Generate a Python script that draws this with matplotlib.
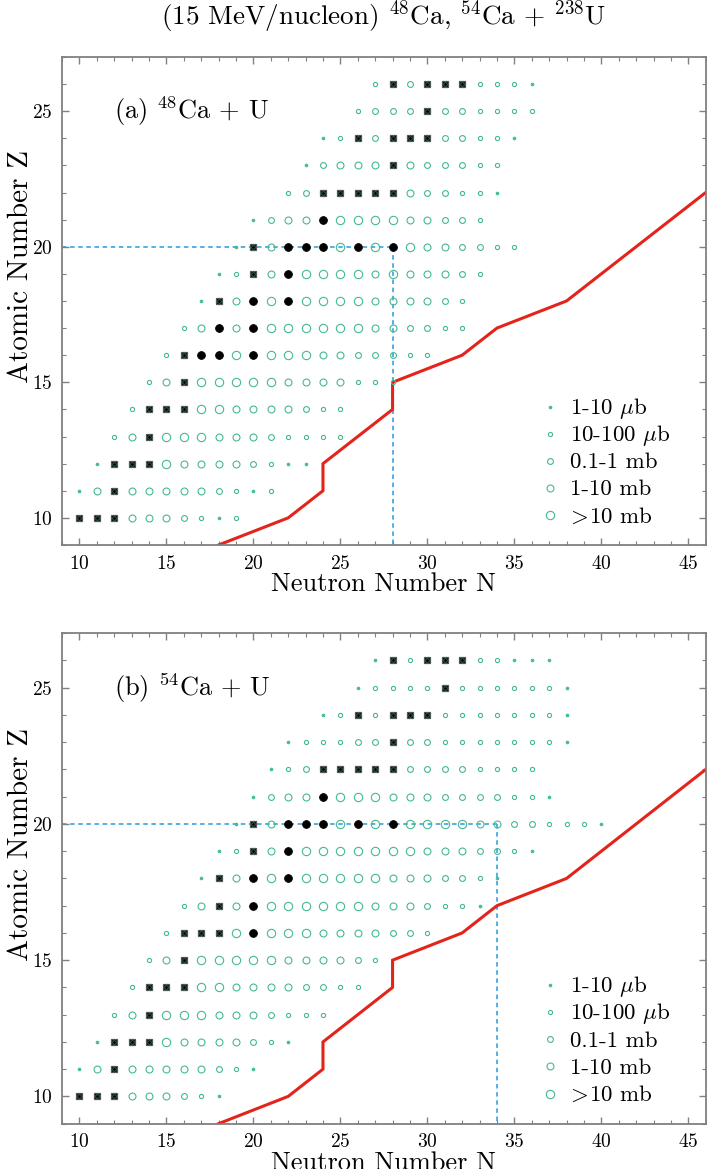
import matplotlib
matplotlib.use("Agg")
import matplotlib.pyplot as plt

plt.rcParams['font.family'] = 'serif'
plt.rcParams['font.serif'] = ['cmr10']
plt.rcParams['mathtext.fontset'] = 'cm'
plt.rcParams['axes.formatter.use_mathtext'] = True

# ---------------- data ----------------
# codes: '1'..'5' cross-section class (1-10 ub ... >10 mb), 'S' black square, 'B' black circle
Z_ROWS = [26, 25, 24, 23, 22, 21, 20, 19, 18, 17, 16, 15, 14, 13, 12, 11, 10]

A_N0 = [27, 26, 24, 23, 22, 20, 19, 18, 17, 16, 15, 14, 13, 12, 11, 10, 10]
A_CODES = [
    "2S3SSS2221",
    "2333S332222",
    "12S3SSS33221",
    "13444S433322",
    "23SSSSS433221",
    "1344B555544332",
    "1S4BBB5B5B5443322",
    "12S4B55554544432",
    "1S4B5B5555444432",
    "24B4B555555443322",
    "2SBB5B5554433322",
    "24S555554444222",
    "2SSS554444322",
    "24S55544432222",
    "1SSS544443211",
    "14S444443212",
    "SSS4443212",
]

B_N0 = [27, 26, 24, 22, 21, 20, 19, 18, 17, 16, 15, 14, 13, 12, 11, 10, 10]
B_CODES = [
    "1S2SSS22111",
    "12222S2222221",
    "12S2SSS22222221",
    "122233S3322222221",
    "123SSSSS33332222",
    "1344B5554443333221",
    "1S4BBB5B5B555544332221",
    "12S4B55555554443321",
    "1S4B5B555554443321",
    "24S4B5555554443221",
    "2SSS5B5554444332",
    "24S55555444432",
    "2SSS5544443322",
    "24S5554443222",
    "1SSS54444321",
    "14S44444321",
    "SSS444321",
]

RED_N = [18, 22, 24, 24, 28, 28, 32, 34, 38, 46]
RED_Z = [9, 10, 11, 12, 14, 15, 16, 17, 18, 22]

A_CUT = (28, 20)   # dashed guide lines (N, Z)
B_CUT = (34, 20)

LEGEND_KEYS = ['1', '2', '3', '4', '5']
LEGEND_LABELS = [r'1-10 $\mu$b', r'10-100 $\mu$b', '0.1-1 mb', '1-10 mb', r'$\!>\!$10 mb']
PANEL_LABELS = [r'(a) $^{48}$Ca + U', r'(b) $^{54}$Ca + U']
TITLE = r'(15 MeV/nucleon) $^{48}$Ca, $^{54}$Ca + $^{238}$U'

# ---------------- style ----------------
TEAL = '#45b993'
SIZES = {'1': 2.0, '2': 3.0, '3': 4.2, '4': 5.0, '5': 6.0}
GRAY = '#808080'


def ring(ax, n, z, k):
    if k == '1':
        ax.plot(n, z, 'o', ms=SIZES[k], mfc=TEAL, mec=TEAL, mew=0.6, ls='none', zorder=3)
    else:
        ax.plot(n, z, 'o', ms=SIZES[k], mfc='none', mec=TEAL, mew=0.8, ls='none', zorder=3)


def draw_panel(ax, n0s, codes, cut, label):
    pts = {k: ([], []) for k in ['1', '2', '3', '4', '5', 'S', 'B']}
    for z, n0, row in zip(Z_ROWS, n0s, codes):
        for i, c in enumerate(row):
            pts[c][0].append(n0 + i)
            pts[c][1].append(z)
    # guide lines
    ax.plot([9, cut[0]], [cut[1], cut[1]], color='#4aa9e2', lw=1.3,
            ls=(0, (2.5, 2.0)), zorder=1)
    ax.plot([cut[0], cut[0]], [cut[1], 9], color='#4aa9e2', lw=1.3,
            ls=(0, (2.5, 2.0)), zorder=1)
    for k in ['1', '2', '3', '4', '5']:
        ring(ax, pts[k][0], pts[k][1], k)
    n, z = pts['S']
    ax.plot(n, z, 's', ms=4.6, mfc='black', mec='#555555', mew=0.9, ls='none', zorder=4)
    ax.plot(n, z, 'o', ms=2.6, mfc='none', mec='#2c6e58', mew=0.6, ls='none', zorder=5)
    n, z = pts['B']
    ax.plot(n, z, 'o', ms=5.6, mfc='black', mec='black', mew=0.6, ls='none', zorder=4)

    ax.plot(RED_N, RED_Z, color='#e3241b', lw=2.2, zorder=2, solid_joinstyle='miter')

    ax.set_xlim(9, 46)
    ax.set_ylim(9, 27)
    ax.set_xticks(range(10, 46, 5))
    ax.set_yticks(range(10, 26, 5))
    ax.set_xticks(range(9, 47), minor=True)
    ax.set_yticks(range(9, 28), minor=True)
    ax.tick_params(which='both', direction='in', top=True, right=True,
                   color=GRAY, labelsize=14, pad=7)
    ax.tick_params(which='major', length=5, width=1.0)
    ax.tick_params(which='minor', length=3, width=0.8)
    for s in ax.spines.values():
        s.set_color(GRAY)
        s.set_linewidth(1.3)
    ax.set_xlabel('Neutron Number N', fontsize=19, labelpad=0)
    ax.set_ylabel('Atomic Number Z', fontsize=21)
    ax.yaxis.set_label_coords(-0.044, 0.57)
    ax.text(12.0, 25.0, label, fontsize=19, va='center', ha='left')

    # legend (manual, lower right)
    for i, (k, lab) in enumerate(zip(LEGEND_KEYS, LEGEND_LABELS)):
        zrow = 14.1 - i
        ring(ax, [37.05], [zrow], k)
        ax.text(38.2, zrow - 0.27, lab, fontsize=16.5, ha='left', va='baseline')


fig = plt.figure(figsize=(7.07, 11.69), dpi=100)
ax1 = fig.add_axes([0.0877, 0.5338, 0.9105, 0.4175])
ax2 = fig.add_axes([0.0877, 0.0388, 0.9105, 0.4195])
draw_panel(ax1, A_N0, A_CODES, A_CUT, PANEL_LABELS[0])
draw_panel(ax2, B_N0, B_CODES, B_CUT, PANEL_LABELS[1])
fig.text(0.543, 1 - 17 / 1169, TITLE, fontsize=19.5, ha='center', va='center')

fig.savefig('out.png', dpi=100)
